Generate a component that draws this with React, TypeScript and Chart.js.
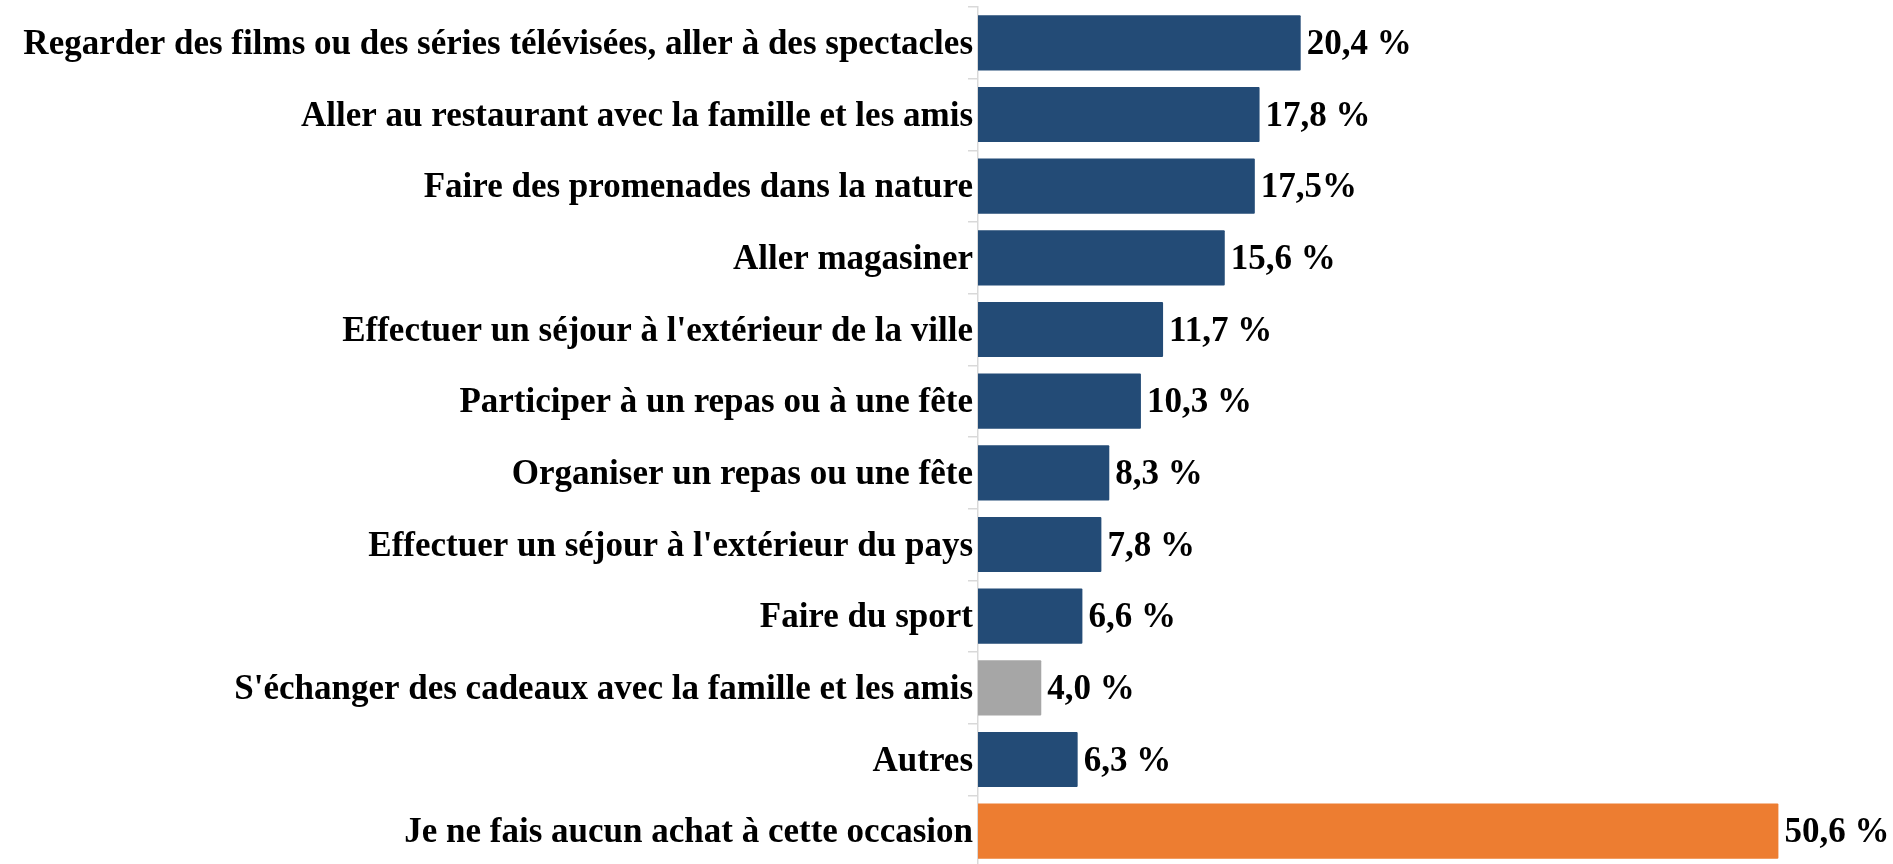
import React, { useEffect, useRef } from "react";
import { Chart, registerables } from "chart.js";

Chart.register(...registerables);

const categories: string[] = [
  "Regarder des films ou des séries télévisées, aller à des spectacles",
  "Aller au restaurant avec la famille et les amis",
  "Faire des promenades dans la nature",
  "Aller magasiner",
  "Effectuer un séjour à l'extérieur de la ville",
  "Participer à un repas ou à une fête",
  "Organiser un repas ou une fête",
  "Effectuer un séjour à l'extérieur du pays",
  "Faire du sport",
  "S'échanger des cadeaux avec la famille et les amis",
  "Autres",
  "Je ne fais aucun achat à cette occasion",
];

const values: number[] = [20.4, 17.8, 17.5, 15.6, 11.7, 10.3, 8.3, 7.8, 6.6, 4.0, 6.3, 50.6];

const valueLabels: string[] = [
  "20,4 %", "17,8 %", "17,5%", "15,6 %", "11,7 %", "10,3 %",
  "8,3 %", "7,8 %", "6,6 %", "4,0 %", "6,3 %", "50,6 %",
];

const NAVY = "#234B76";
const GRAY = "#A6A6A6";
const ORANGE = "#ED7D31";
const barColors: string[] = [
  NAVY, NAVY, NAVY, NAVY, NAVY, NAVY, NAVY, NAVY, NAVY, GRAY, NAVY, ORANGE,
];

const FONT_FAMILY = "'Liberation Serif', 'Times New Roman', serif";
const FONT = `bold 35px ${FONT_FAMILY}`;

const labelsPlugin = {
  id: "textLabels",
  afterDatasetsDraw(chart: any) {
    const ctx = chart.ctx;
    const meta = chart.getDatasetMeta(0);
    const yScale = chart.scales.y;
    ctx.save();
    ctx.font = FONT;
    ctx.fillStyle = "#000000";
    ctx.textBaseline = "alphabetic";
    // category labels
    ctx.textAlign = "right";
    categories.forEach((c, i) => {
      const y = yScale.getPixelForValue(i);
      ctx.fillText(c, chart.chartArea.left - 5, y + 11);
    });
    // value labels
    ctx.textAlign = "left";
    meta.data.forEach((bar: any, i: number) => {
      ctx.fillText(valueLabels[i], bar.x + 6, bar.y + 11);
    });
    ctx.restore();
  },
};

export default function App() {
  const canvasRef = useRef<HTMLCanvasElement | null>(null);

  useEffect(() => {
    if (!canvasRef.current) return;
    const chart = new Chart(canvasRef.current, {
      type: "bar",
      data: {
        labels: categories,
        datasets: [
          {
            data: values,
            backgroundColor: barColors,
            borderWidth: 0,
            borderRadius: 1,
            barPercentage: 0.77,
            categoryPercentage: 1,
          },
        ],
      },
      options: {
        indexAxis: "y",
        responsive: false,
        animation: false,
        layout: { padding: { top: 7, bottom: 1, left: 0, right: 45 } },
        plugins: {
          legend: { display: false },
          tooltip: { enabled: false },
        },
        scales: {
          x: {
            display: false,
            min: 0,
            max: 55,
          },
          y: {
            afterFit: (scale: any) => {
              scale.width = 978;
              scale.paddingTop = 0;
              scale.paddingBottom = 0;
            },
            border: { display: true, color: "#D9D9D9", width: 1.5 },
            grid: {
              display: true,
              drawOnChartArea: false,
              drawTicks: true,
              tickLength: 10,
              color: "#D9D9D9",
              lineWidth: 1.5,
              offset: true,
            },
            ticks: {
              display: false,
              autoSkip: false,
            },
          },
        },
      },
      plugins: [labelsPlugin],
    });
    return () => chart.destroy();
  }, []);

  return (
    <div
      style={{
        position: "fixed",
        left: 0,
        top: 0,
        width: 1893,
        height: 864,
        overflow: "hidden",
        background: "#ffffff",
      }}
    >
      <canvas ref={canvasRef} width={1893} height={868} style={{ display: "block" }} />
    </div>
  );
}
